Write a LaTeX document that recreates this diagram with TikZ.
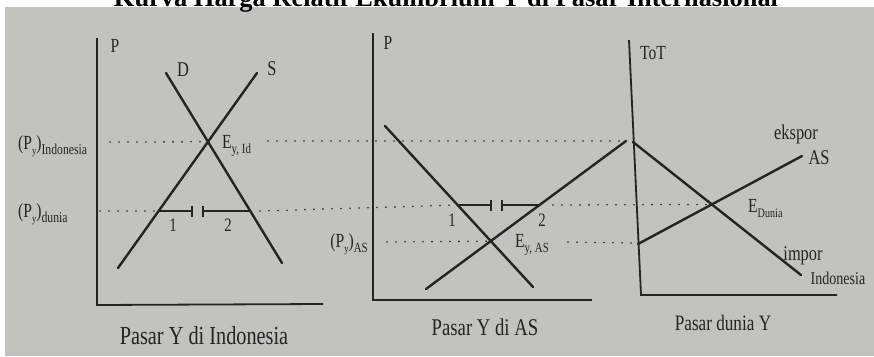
\documentclass[tikz,border=0pt]{standalone}
\usepackage{fontspec}
\setmainfont{Liberation Serif}
\usetikzlibrary{arrows.meta}

\definecolor{kertas}{RGB}{194,194,191}
\definecolor{tinta}{RGB}{36,36,36}
\newcommand{\sq}[1]{\scalebox{0.78}[1]{#1}}
\newcommand{\bawah}[2]{\raisebox{-0.55ex}{\fontsize{#1}{#1}\selectfont #2}}

\tikzset{
  kurva/.style={line width=2.4pt, tinta, line cap=round},
  sumbu/.style={line width=1.8pt, tinta},
  titik/.style={line width=1.8pt, tinta, dash pattern=on 0pt off 9pt, line cap=round},
  batang/.style={line width=2pt, tinta},
  teks/.style={text=tinta, inner sep=0pt, font=\fontsize{#1}{#1}\selectfont},
}

\begin{document}
\begin{tikzpicture}[x=1pt, y=-1pt]
        \useasboundingbox (0,0) rectangle (874,356);
        \clip (0,0) rectangle (874,356);
        \fill[kertas] (5,7) rectangle (874,356);
        \node[anchor=base, inner sep=0pt] (judul) at (446,6)
            {\resizebox{664pt}{!}{\bfseries Kurva Harga Relatif Ekuilibrium Y di Pasar Internasional}};

        % Titik-titik
        \coordinate (Y1) at (97,38);   \coordinate (O1) at (97,305);  \coordinate (X1) at (323,304);
        \coordinate (Y2) at (373,33);  \coordinate (O2) at (373,300); \coordinate (X2) at (592,300);
        \coordinate (Y3) at (629,40);  \coordinate (O3) at (641,295); \coordinate (X3) at (837,295);
        \coordinate (D1a) at (166,73);  \coordinate (D1b) at (282,263);
        \coordinate (S1a) at (118,268); \coordinate (S1b) at (257,73);
        \coordinate (D2a) at (385,126); \coordinate (D2b) at (533,287);
        \coordinate (S2a) at (426,289); \coordinate (S2b) at (626,141);
        \coordinate (M3a) at (633,142); \coordinate (M3b) at (801,275);
        \coordinate (X3a) at (638,244); \coordinate (X3b) at (802,156);
        \coordinate (E1) at (208,141.8);
        \coordinate (E2) at (490.8,241.1);
        \coordinate (E3) at (711.8,204.4);
        \coordinate (B1a) at (158.6,211); \coordinate (T1a) at (193,211);
        \coordinate (T1b) at (202,211);   \coordinate (B1b) at (250.2,211);
        \coordinate (B2a) at (457.6,205); \coordinate (T2a) at (492,205);
        \coordinate (T2b) at (501,205);   \coordinate (B2b) at (539.5,205);

        % Garis putus-putus
        \draw[titik] (110,142) -- (E1);
        \draw[titik] (268,141) -- (627,141);
        \draw[titik] (100,211) -- (B1a);
        \draw[titik] (260,211) -- (B2a);
        \draw[titik] (553,205) -- (E3);
        \draw[titik] (387,242) -- (E2);
        \draw[titik] (568,242) -- (632,243);

        % Sumbu
        \draw[sumbu] (Y1) -- (O1) -- (X1);
        \draw[sumbu] (Y2) -- (O2) -- (X2);
        \draw[sumbu] (Y3) -- (O3) -- (X3);

        % Kurva
        \draw[kurva] (D1a) -- (D1b);
        \draw[kurva] (S1a) -- (S1b);
        \draw[kurva] (D2a) -- (D2b);
        \draw[kurva] (S2a) -- (S2b);
        \draw[kurva] (M3a) -- (M3b);
        \draw[kurva] (X3a) -- (X3b);

        % Kelebihan
        \draw[batang, -{Bar[width=11pt]}] (B1a) -- (T1a);
        \draw[batang, {Bar[width=11pt]}-] (T1b) -- (B1b);
        \draw[batang, -{Bar[width=11pt]}] (B2a) -- (T2a);
        \draw[batang, {Bar[width=11pt]}-] (T2b) -- (B2b);

        % Label
        \node[teks=20] (P1) at (115,46) {\sq{P}};
        \node[teks=21] (labD) at (183,70) {\sq{D}};
        \node[teks=21] (labS) at (272,69) {\sq{S}};
        \node[teks=20, anchor=base west] (labE1) at (222,148) {\sq{E\bawah{14}{y, Id}}};
        \node[teks=20, anchor=base west] (PInd) at (18,149) {\sq{(P\bawah{11}{y})\bawah{15}{Indonesia}}};
        \node[teks=20, anchor=base west] (PDun) at (18,217) {\sq{(P\bawah{11}{y})\bawah{15}{dunia}}};
        \node[teks=19] (satu1) at (173,225) {\sq{1}};
        \node[teks=19] (dua1) at (228,225) {\sq{2}};
        \node[teks=26] (judul1) at (204,336) {\sq{Pasar Y di Indonesia}};

        \node[teks=20] (P2) at (388,43) {\sq{P}};
        \node[teks=20, anchor=base east] (PAS) at (368,247) {\sq{(P\bawah{11}{y})\bawah{14}{AS}}};
        \node[teks=20, anchor=base west] (labE2) at (515,247) {\sq{E\bawah{14}{y, AS}}};
        \node[teks=19] (satu2) at (452,220) {\sq{1}};
        \node[teks=19] (dua2) at (542,220) {\sq{2}};
        \node[teks=24] (judul2) at (485,327) {\sq{Pasar Y di AS}};

        \node[teks=20] (ToT) at (653,53) {\sq{ToT}};
        \node[teks=21] (ekspor) at (796,134) {\sq{ekspor}};
        \node[teks=21] (labAS) at (819,158) {\sq{AS}};
        \node[teks=20, anchor=base west] (labE3) at (748,212) {\sq{E\bawah{13}{Dunia}}};
        \node[teks=21] (impor) at (803,256) {\sq{impor}};
        \node[teks=18] (labInd) at (838,278) {\sq{Indonesia}};
        \node[teks=22] (judul3) at (723,323) {\sq{Pasar dunia Y}};
    \end{tikzpicture}
\end{document}
